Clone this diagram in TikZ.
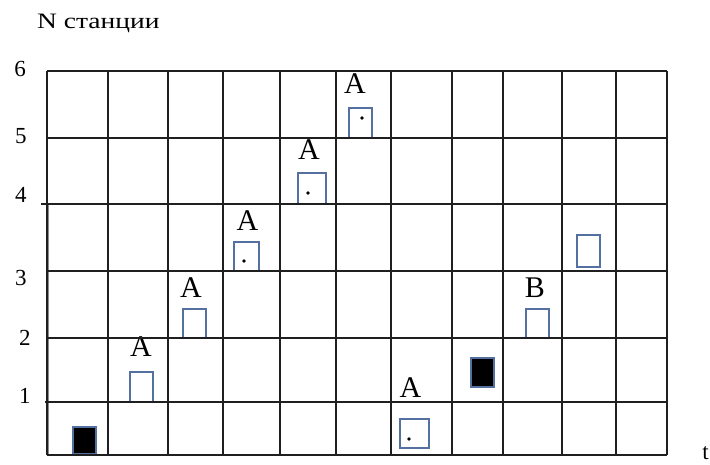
\documentclass[tikz,border=0pt]{standalone}
\usepackage{fontspec}
\setmainfont{Liberation Serif}
\definecolor{boxc}{RGB}{84,112,160}
\begin{document}
\begin{tikzpicture}[x=1pt,y=-1pt,
  gridline/.style={line width=1.4pt, draw=black!88},
  box/.style={draw=boxc, line width=1.3pt, inner sep=0pt, outer sep=0pt},
  openbox/.style={box, fill=white},
  fullbox/.style={box, fill=black},
  dotmark/.style={circle, fill=black, inner sep=0pt, minimum size=3.8pt},
  lab/.style={font=\fontsize{30}{30}\selectfont, anchor=base, inner sep=0pt},
  num/.style={font=\fontsize{23}{23}\selectfont, anchor=base, inner sep=0pt}]
\useasboundingbox (0,0) rectangle (710,464);
% axis title
\node[anchor=base west, inner sep=0pt, font=\fontsize{22}{22}\selectfont] (title) at (37,28.5) {\scalebox{1.25}[1]{N станции}};
% row numbers
\node[num] (n6) at (20,76) {6};
\node[num] (n5) at (21,143) {5};
\node[num] (n4) at (21,202) {4};
\node[num] (n3) at (21,285) {3};
\node[num] (n2) at (25,345) {2};
\node[num] (n1) at (25,403) {1};
\node[num, anchor=base east] (tt) at (709,459) {t};
% boxes
\node[fullbox, minimum width=23pt, minimum height=27pt] (b1) at (84.5,440.5) {};
\node[openbox, minimum width=23pt, minimum height=30pt] (b2) at (141.5,387) {};
\node[openbox, minimum width=23pt, minimum height=29pt] (b3) at (194.5,323.5) {};
\node[openbox, minimum width=25pt, minimum height=29pt] (b4) at (246.5,256.5) {};
\node[openbox, minimum width=28pt, minimum height=31pt] (b5) at (312,188.5) {};
\node[openbox, minimum width=23pt, minimum height=30pt] (b6) at (360.5,123) {};
\node[openbox, minimum width=29pt, minimum height=29pt] (b7) at (414.5,433.5) {};
\node[fullbox, minimum width=23pt, minimum height=29pt] (b8) at (482.5,372.5) {};
\node[openbox, minimum width=23pt, minimum height=29pt] (b9) at (537.5,323.5) {};
\node[openbox, minimum width=23pt, minimum height=32pt] (b10) at (588.5,251) {};
% dots
\node[dotmark] (d4) at (244,261) {};
\node[dotmark] (d5) at (308,193) {};
\node[dotmark] (d6) at (362,118) {};
\node[dotmark] (d7) at (409,439) {};
% letters
\node[lab] (a2) at (141,356) {A};
\node[lab] (a3) at (191,297) {A};
\node[lab] (a4) at (247.5,230) {A};
\node[lab] (a5) at (309,159) {A};
\node[lab] (a6) at (355,93) {A};
\node[lab] (a7) at (410.5,397) {A};
\node[lab] (bb9) at (535,297) {B};
% grid
\draw[line width=3pt, draw=black!45] (47,204) -- (47,455);
\foreach \x in {47,108,168,223,280,336,391,452,503,562,616,667}
  \draw[gridline] (\x,71) -- (\x,455);
\foreach \y in {71,138,271,338,455}
  \draw[gridline] (47,\y) -- (667,\y);
\draw[gridline] (41,204) -- (667,204);
\draw[gridline] (45,402) -- (667,402);
\end{tikzpicture}
\end{document}
